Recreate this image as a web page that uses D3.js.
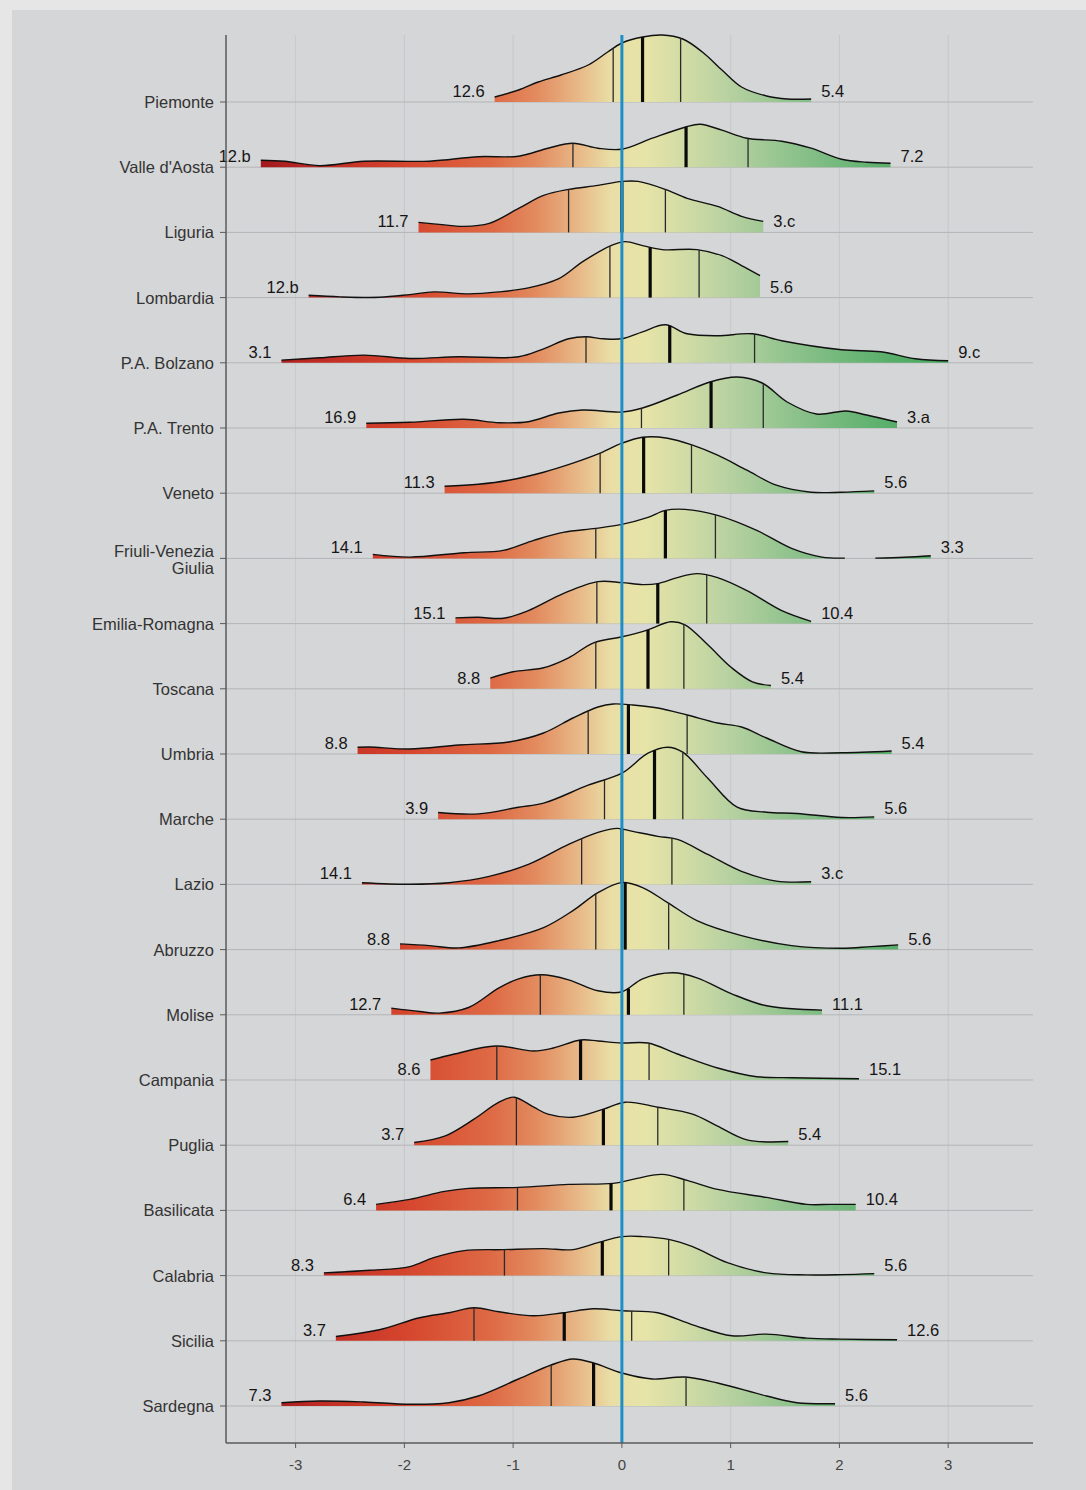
<!DOCTYPE html>
<html>
<head>
<meta charset="utf-8">
<script src="https://cdn.jsdelivr.net/npm/d3@7"></script>
<style>
  body { margin: 0; background: #e6e6e6; }
  svg { display: block; font-family: "Liberation Sans", Arial, sans-serif; }
</style>
</head>
<body>
<div id="chart"></div>
<script>
// regioni (dall'alto in basso)
const regions = ["Piemonte", "Valle d'Aosta", "Liguria", "Lombardia", "P.A. Bolzano", "P.A. Trento",
  "Veneto", "Friuli-Venezia Giulia", "Emilia-Romagna", "Toscana", "Umbria", "Marche", "Lazio",
  "Abruzzo", "Molise", "Campania", "Puglia", "Basilicata", "Calabria", "Sicilia", "Sardegna"];

// densità stimate: [valore, densità]
const dPiemonte = [[-1.17,.05],[-0.95,.12],[-0.77,.20],[-0.56,.27],[-0.31,.37],[-0.13,.50],[0,.59],[0.19,.65],[0.37,.67],[0.56,.63],[0.74,.50],[0.92,.32],[1.1,.15],[1.33,.06],[1.52,.03],[1.74,.03]];
const dValleAosta = [[-3.32,.07],[-3.1,.06],[-2.78,.015],[-2.37,.06],[-1.77,.06],[-1.32,.105],[-0.95,.11],[-0.68,.19],[-0.45,.24],[-0.22,.19],[0,.18],[0.28,.29],[0.58,.40],[0.72,.43],[0.92,.37],[1.15,.29],[1.47,.26],[1.74,.19],[2.02,.08],[2.25,.05],[2.47,.04]];
const dLiguria = [[-1.87,.10],[-1.68,.08],[-1.45,.06],[-1.22,.09],[-0.95,.24],[-0.72,.37],[-0.49,.43],[-0.22,.47],[0,.51],[0.15,.51],[0.4,.43],[0.6,.34],[0.88,.26],[1.1,.16],[1.3,.11]];
const dLombardia = [[-2.88,.023],[-2.59,.007],[-2.23,.003],[-1.95,.03],[-1.73,.057],[-1.41,.037],[-1.13,.057],[-0.86,.097],[-0.58,.19],[-0.36,.36],[-0.1,.52],[0.03,.56],[0.19,.52],[0.37,.48],[0.69,.48],[0.92,.42],[1.1,.32],[1.27,.22]];
const dBolzano = [[-3.13,.027],[-2.78,.05],[-2.37,.077],[-1.95,.043],[-1.5,.06],[-0.95,.06],[-0.72,.14],[-0.49,.24],[-0.33,.26],[-0.17,.24],[0,.24],[0.19,.31],[0.4,.38],[0.6,.29],[0.88,.27],[1.2,.29],[1.47,.22],[2.02,.13],[2.38,.11],[2.7,.04],[3.0,.02]];
const dTrento = [[-2.35,.047],[-1.95,.057],[-1.45,.087],[-1.13,.053],[-0.86,.063],[-0.58,.15],[-0.36,.18],[0,.16],[0.19,.20],[0.51,.33],[0.81,.46],[1.06,.51],[1.29,.45],[1.52,.26],[1.79,.14],[2.06,.17],[2.25,.13],[2.53,.06]];
const dVeneto = [[-1.63,.07],[-1.32,.09],[-1.04,.13],[-0.72,.21],[-0.45,.30],[-0.2,.40],[0,.50],[0.19,.56],[0.42,.55],[0.65,.48],[0.88,.38],[1.15,.23],[1.42,.08],[1.74,.01],[2.02,.01],[2.32,.023]];
const dFriuli = [[-2.29,.04],[-1.95,.013],[-1.45,.057],[-1.09,.08],[-0.81,.18],[-0.54,.26],[-0.24,.30],[0,.34],[0.24,.41],[0.4,.48],[0.58,.49],[0.88,.43],[1.24,.28],[1.56,.10],[1.84,.013],[2.05,.003],[2.19,null],[2.33,.003],[2.6,.012],[2.84,.027]];
const dEmilia = [[-1.53,.057],[-1.32,.063],[-1.09,.053],[-0.86,.13],[-0.54,.30],[-0.22,.42],[0,.41],[0.19,.39],[0.33,.40],[0.51,.46],[0.69,.50],[0.88,.46],[1.15,.33],[1.47,.13],[1.74,.023]];
const dToscana = [[-1.21,.107],[-1.0,.17],[-0.72,.21],[-0.49,.31],[-0.26,.46],[0,.52],[0.24,.59],[0.45,.67],[0.58,.64],[0.79,.44],[1.01,.21],[1.2,.07],[1.37,.033]];
const dUmbria = [[-2.43,.067],[-2.32,.07],[-1.95,.05],[-1.5,.09],[-1.04,.12],[-0.72,.21],[-0.45,.36],[-0.22,.47],[-0.08,.50],[0.1,.49],[0.33,.46],[0.6,.39],[0.88,.31],[1.1,.27],[1.33,.16],[1.65,.023],[2.02,.013],[2.48,.03]];
const dMarche = [[-1.69,.067],[-1.32,.053],[-0.95,.12],[-0.72,.16],[-0.31,.34],[0,.46],[0.24,.66],[0.42,.72],[0.56,.67],[0.79,.41],[1.06,.12],[1.33,.07],[1.61,.057],[2.02,.017],[2.32,.023]];
const dLazio = [[-2.39,.017],[-1.95,.002],[-1.59,.017],[-1.22,.08],[-0.86,.20],[-0.49,.40],[-0.22,.52],[-0.04,.56],[0.1,.53],[0.33,.48],[0.51,.45],[0.79,.30],[1.1,.13],[1.42,.033],[1.74,.027]];
const dAbruzzo = [[-2.04,.057],[-1.77,.04],[-1.5,.017],[-1.13,.09],[-0.72,.22],[-0.45,.39],[-0.22,.57],[0,.67],[0.19,.62],[0.42,.47],[0.69,.29],[1.1,.14],[1.56,.04],[2.02,.013],[2.29,.03],[2.54,.047]];
const dMolise = [[-2.12,.067],[-1.86,.033],[-1.68,.017],[-1.41,.073],[-1.13,.27],[-0.95,.36],[-0.74,.40],[-0.49,.35],[-0.22,.24],[0,.23],[0.19,.36],[0.47,.42],[0.69,.37],[1.01,.21],[1.33,.09],[1.84,.047]];
const dCampania = [[-1.76,.20],[-1.54,.26],[-1.16,.34],[-0.81,.29],[-0.63,.32],[-0.38,.40],[-0.22,.39],[0,.37],[0.24,.37],[0.51,.26],[0.88,.12],[1.24,.033],[1.56,.023],[2.18,.013]];
const dPuglia = [[-1.91,.027],[-1.63,.09],[-1.36,.26],[-1.13,.43],[-0.99,.48],[-0.81,.38],[-0.68,.31],[-0.45,.28],[-0.17,.36],[0.03,.43],[0.33,.38],[0.65,.31],[0.88,.19],[1.15,.053],[1.53,.037]];
const dBasilicata = [[-2.26,.06],[-1.95,.11],[-1.63,.19],[-1.41,.22],[-0.95,.23],[-0.49,.26],[-0.08,.27],[0.1,.31],[0.37,.36],[0.6,.30],[0.88,.21],[1.33,.13],[1.7,.06],[1.92,.06],[2.15,.06]];
const dCalabria = [[-2.74,.027],[-2.32,.053],[-1.95,.09],[-1.73,.18],[-1.45,.25],[-1.09,.26],[-0.72,.27],[-0.45,.26],[-0.22,.33],[0,.39],[0.19,.39],[0.44,.36],[0.65,.29],[0.97,.13],[1.33,.027],[1.7,.007],[2.02,.01],[2.32,.02]];
const dSicilia = [[-2.63,.043],[-2.23,.11],[-1.86,.23],[-1.59,.28],[-1.36,.33],[-1.13,.29],[-0.81,.25],[-0.54,.28],[-0.26,.32],[0,.30],[0.33,.28],[0.65,.16],[1.01,.05],[1.33,.067],[1.7,.027],[2.02,.017],[2.53,.01]];
const dSardegna = [[-3.13,.033],[-2.78,.05],[-2.37,.04],[-1.95,.017],[-1.59,.033],[-1.32,.10],[-0.95,.27],[-0.65,.41],[-0.45,.47],[-0.26,.43],[0,.33],[0.28,.27],[0.58,.29],[0.88,.23],[1.33,.10],[1.61,.033],[1.96,.023]];

const densities = [dPiemonte, dValleAosta, dLiguria, dLombardia, dBolzano, dTrento, dVeneto, dFriuli,
  dEmilia, dToscana, dUmbria, dMarche, dLazio, dAbruzzo, dMolise, dCampania, dPuglia, dBasilicata,
  dCalabria, dSicilia, dSardegna];

// quartili
const q1 = [-0.08,-0.45,-0.49,-0.11,-0.33,0.18,-0.2,-0.24,-0.23,-0.24,-0.31,-0.16,-0.37,-0.24,-0.75,-1.15,-0.97,-0.96,-1.08,-1.36,-0.65];
const med = [0.19,0.59,0.0,0.26,0.44,0.82,0.2,0.4,0.33,0.24,0.06,0.3,0.0,0.03,0.06,-0.38,-0.17,-0.1,-0.18,-0.53,-0.26];
const q3 = [0.54,1.16,0.4,0.71,1.22,1.3,0.64,0.86,0.78,0.57,0.6,0.56,0.46,0.43,0.57,0.25,0.33,0.57,0.43,0.09,0.59];

// etichette agli estremi
const leftLabels = ["12.6","12.b","11.7","12.b","3.1","16.9","11.3","14.1","15.1","8.8","8.8","3.9","14.1","8.8","12.7","8.6","3.7","6.4","8.3","3.7","7.3"];
const rightLabels = ["5.4","7.2","3.c","5.6","9.c","3.a","5.6","3.3","10.4","5.4","5.4","5.6","3.c","5.6","11.1","15.1","5.4","10.4","5.6","12.6","5.6"];

const xTicks = [-3, -2, -1, 0, 1, 2, 3];

// scala colori (valore -> colore)
const colorStops = [[-3.4,"#9c171b"],[-2.8,"#bf2b24"],[-2.0,"#d5452d"],[-1.2,"#de6a45"],[-0.8,"#e28a5e"],
  [-0.4,"#e8b887"],[-0.1,"#e9dea6"],[0.2,"#e7e4a8"],[0.6,"#d0dba5"],[1.0,"#b6d1a0"],[1.5,"#93c48f"],
  [2.0,"#73b87c"],[2.5,"#57ae69"],[3.0,"#45a75d"]];

var width = 1086, height = 1490;
var plotTop = 35, plotBottom = 1443;

var svg = d3.select("#chart").append("svg")
  .attr("width", width).attr("height", height);

svg.append("rect").attr("x", 12).attr("y", 10)
  .attr("width", width - 12).attr("height", height - 10)
  .attr("fill", "#d5d6d8");

var x = d3.scaleLinear().domain([-3.64, 3.78]).range([226, 1033]);
var y = d3.scalePoint().domain(regions).range([102, 1406]);
var h = d3.scaleLinear().domain([0, 1]).range([0, 100]);

// gradiente orizzontale
var grad = svg.append("defs").append("linearGradient")
  .attr("id", "ramp").attr("gradientUnits", "userSpaceOnUse")
  .attr("x1", x.range()[0]).attr("x2", x.range()[1]).attr("y1", 0).attr("y2", 0);
grad.selectAll("stop").data(colorStops).enter().append("stop")
  .attr("offset", d => (x(d[0]) - x.range()[0]) / (x.range()[1] - x.range()[0]))
  .attr("stop-color", d => d[1]);

// griglia
svg.append("g").selectAll("line").data(xTicks).enter().append("line")
  .attr("x1", d => x(d)).attr("x2", d => x(d))
  .attr("y1", plotTop).attr("y2", plotBottom)
  .attr("stroke", "#c3c4c6").attr("stroke-width", 0.8);
svg.append("g").selectAll("line").data(regions).enter().append("line")
  .attr("x1", x.range()[0]).attr("x2", x.range()[1])
  .attr("y1", d => y(d)).attr("y2", d => y(d))
  .attr("stroke", "#b4b5b7").attr("stroke-width", 1);

var curve = d3.curveCatmullRom.alpha(0.5);
var area = d3.area()
  .defined(d => d[1] !== null)
  .x(d => x(d[0])).y0(0).y1(d => -h(d[1]))
  .curve(curve);
var line = d3.line()
  .defined(d => d[1] !== null)
  .x(d => x(d[0])).y(d => -h(d[1]))
  .curve(curve);

// altezza della curva in corrispondenza di un valore x (ricerca sul path)
function heightAt(pathNode, px) {
  var len = pathNode.getTotalLength();
  var lo = 0, hi = len;
  for (var k = 0; k < 40; k++) {
    var mid = (lo + hi) / 2;
    if (pathNode.getPointAtLength(mid).x < px) lo = mid; else hi = mid;
  }
  return pathNode.getPointAtLength(lo).y;
}

regions.forEach(function (r, i) {
  var data = densities[i];
  var g = svg.append("g").attr("transform", "translate(0," + y(r) + ")");

  g.append("path").datum(data).attr("d", area).attr("fill", "url(#ramp)");
  var outline = g.append("path").datum(data).attr("d", line)
    .attr("fill", "none").attr("stroke", "#111").attr("stroke-width", 1.4);

  var node = outline.node();
  [[q1[i], 1.3, "#2a2a2a"], [q3[i], 1.3, "#2a2a2a"], [med[i], 3.2, "#0a0a0a"]].forEach(function (q) {
    var px = x(q[0]);
    g.append("line").attr("x1", px).attr("x2", px)
      .attr("y1", 0).attr("y2", heightAt(node, px))
      .attr("stroke", q[2]).attr("stroke-width", q[1]);
  });

  var valid = data.filter(d => d[1] !== null);
  g.append("text").attr("x", x(valid[0][0]) - 10).attr("y", -5)
    .attr("text-anchor", "end").attr("font-size", 16.5).attr("fill", "#151515")
    .text(leftLabels[i]);
  g.append("text").attr("x", x(valid[valid.length - 1][0]) + 10).attr("y", -5)
    .attr("text-anchor", "start").attr("font-size", 16.5).attr("fill", "#151515")
    .text(rightLabels[i]);
});

// linea dello zero
svg.append("line").attr("x1", x(0)).attr("x2", x(0))
  .attr("y1", plotTop).attr("y2", plotBottom)
  .attr("stroke", "#1b8fc6").attr("stroke-width", 3);

// assi
svg.append("line").attr("x1", x.range()[0]).attr("x2", x.range()[0])
  .attr("y1", plotTop).attr("y2", plotBottom).attr("stroke", "#5a5a5a").attr("stroke-width", 1.5);
svg.append("line").attr("x1", x.range()[0]).attr("x2", x.range()[1])
  .attr("y1", plotBottom).attr("y2", plotBottom).attr("stroke", "#5a5a5a").attr("stroke-width", 1.5);

svg.append("g").selectAll("line").data(regions).enter().append("line")
  .attr("x1", x.range()[0] - 6).attr("x2", x.range()[0])
  .attr("y1", d => y(d)).attr("y2", d => y(d))
  .attr("stroke", "#5a5a5a").attr("stroke-width", 1);

svg.append("g").selectAll("line").data(xTicks).enter().append("line")
  .attr("x1", d => x(d)).attr("x2", d => x(d))
  .attr("y1", plotBottom).attr("y2", plotBottom + 5)
  .attr("stroke", "#5a5a5a").attr("stroke-width", 1);

svg.append("g").selectAll("text").data(xTicks).enter().append("text")
  .attr("x", d => x(d)).attr("y", plotBottom + 27)
  .attr("text-anchor", "middle").attr("font-size", 15).attr("fill", "#444")
  .text(d => d);

// etichette regioni
var ylab = svg.append("g").selectAll("text").data(regions).enter().append("text")
  .attr("x", x.range()[0] - 12).attr("y", d => y(d))
  .attr("text-anchor", "end").attr("font-size", 16.5).attr("fill", "#333");
ylab.each(function (d) {
  var t = d3.select(this);
  if (d.length > 18) {
    var parts = [d.slice(0, d.indexOf(" ")), d.slice(d.indexOf(" ") + 1)];
    t.append("tspan").attr("x", x.range()[0] - 12).attr("dy", -1).text(parts[0]);
    t.append("tspan").attr("x", x.range()[0] - 12).attr("dy", 17).text(parts[1]);
  } else {
    t.attr("dy", 6).text(d);
  }
});
</script>
</body>
</html>
